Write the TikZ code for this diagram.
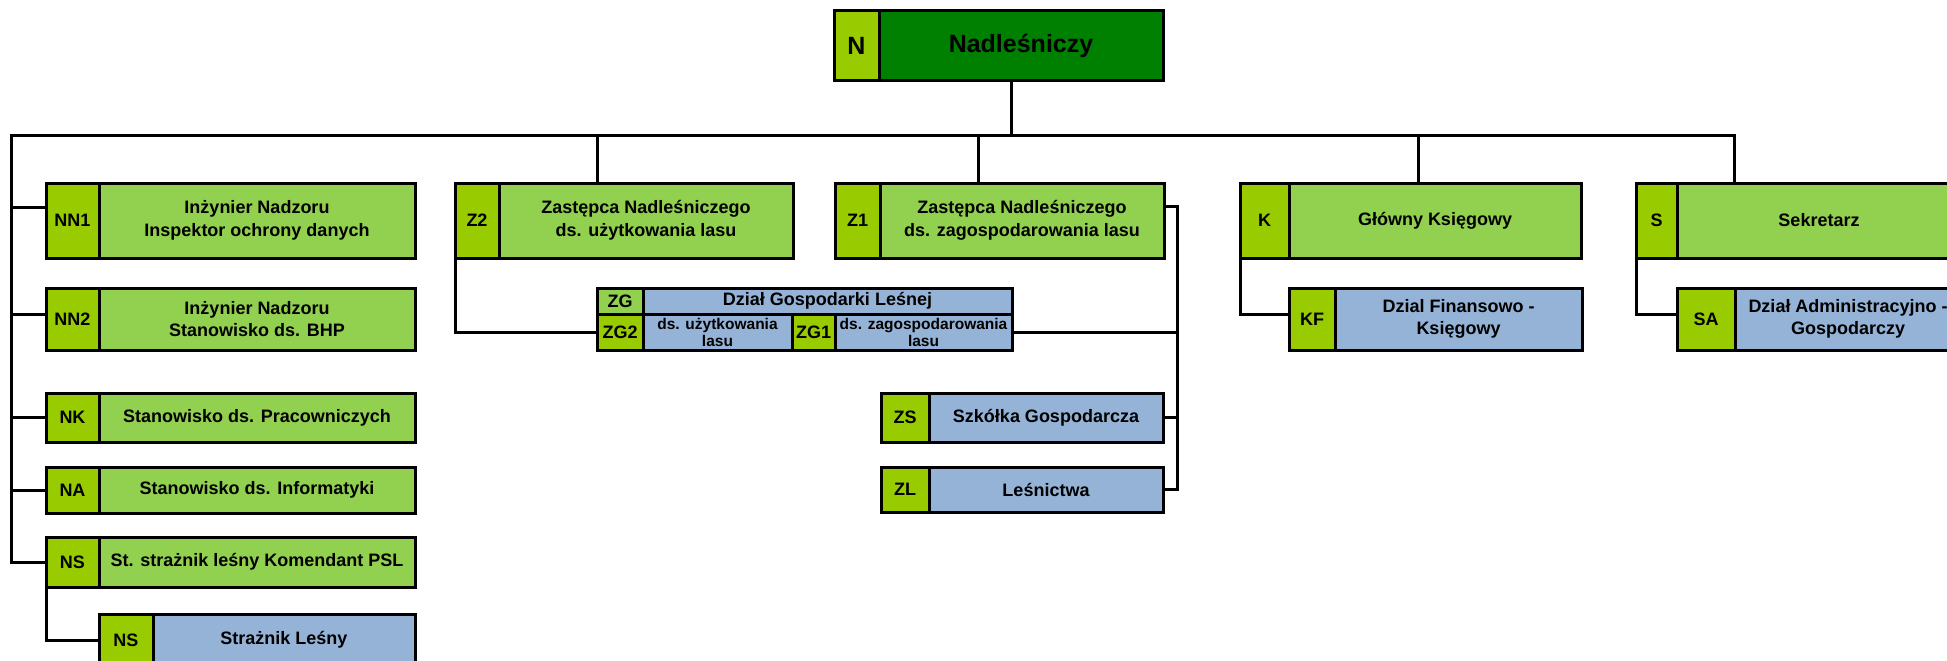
\documentclass[tikz,border=0pt]{standalone}
\usepackage{fontspec}
\setmainfont{Liberation Sans}
\definecolor{codegreen}{HTML}{99CC00}
\definecolor{bodygreen}{HTML}{92D050}
\definecolor{darkgreen}{HTML}{008000}
\definecolor{bodyblue}{HTML}{95B3D7}
\tikzset{
  cell/.style={draw=black, line width=3pt, inner sep=0pt, outer sep=0pt, align=center,
    font=\fontsize{18}{22.5}\selectfont\bfseries, text=black},
  smalltext/.style={font=\fontsize{15.5}{17}\selectfont\bfseries},
  conn/.style={draw=black, line width=3pt},
}
% name, x1, y1, xdiv, x2, y2, code, text, body fill
\newcommand{\orgbox}[9]{%
  \node[cell, fill=codegreen, minimum width={#4-#2}, minimum height={#6-#3}] (#1c) at ({(#2+#4)/2},{(#3+#6)/2}) {#7};
  \node[cell, fill=#9, minimum width={#5-#4}, minimum height={#6-#3}] (#1b) at ({(#4+#5)/2},{(#3+#6)/2}) {#8};
}
\begin{document}
\begin{tikzpicture}[x=1pt,y=-1pt]
\path[use as bounding box, clip] (0,0) rectangle (1947,661);
\fill[white] (0,0) rectangle (1947,661);

% top box
\node[cell, fill=codegreen, minimum width=45, minimum height=70, font=\fontsize{25}{30}\selectfont\bfseries] (Nc) at (856.5,46) {N};
\node[cell, fill=darkgreen, minimum width=284, minimum height=70, font=\fontsize{25}{30}\selectfont\bfseries] (Nb) at (1021,46) {Nadleśniczy};

% left column
\orgbox{NN1}{46}{183}{99}{415}{258}{NN1}{Inżynier Nadzoru\\Inspektor ochrony danych}{bodygreen}
\orgbox{NN2}{46}{288}{99}{415}{350}{NN2}{Inżynier Nadzoru\\Stanowisko ds. BHP}{bodygreen}
\orgbox{NK}{46}{393}{99}{415}{442}{NK}{Stanowisko ds. Pracowniczych}{bodygreen}
\orgbox{NA}{46}{467}{99}{415}{513}{NA}{Stanowisko ds. Informatyki}{bodygreen}
\orgbox{NS}{46}{537}{99}{415}{587}{NS}{St. strażnik leśny Komendant PSL}{bodygreen}
\orgbox{NSS}{99}{614}{153}{415}{666}{NS}{Strażnik Leśny}{bodyblue}

% deputies, accountant, secretary
\orgbox{Z2}{455}{183}{499}{793}{258}{Z2}{Zastępca Nadleśniczego\\ds. użytkowania lasu}{bodygreen}
\orgbox{Z1}{835}{183}{880}{1164}{258}{Z1}{Zastępca Nadleśniczego\\ds. zagospodarowania lasu}{bodygreen}
\orgbox{K}{1240}{183}{1289}{1581}{258}{K}{Główny Księgowy}{bodygreen}
\orgbox{S}{1636}{183}{1677}{1961}{258}{S}{Sekretarz}{bodygreen}
\orgbox{KF}{1289}{288}{1335}{1582}{350}{KF}{Dzial Finansowo -\\Księgowy}{bodyblue}
\orgbox{SA}{1677}{288}{1735}{1961}{350}{SA}{Dział Administracyjno -\\Gospodarczy}{bodyblue}
\orgbox{ZS}{881}{393}{929}{1163}{442}{ZS}{Szkółka Gospodarcza}{bodyblue}
\orgbox{ZL}{881}{467}{929}{1163}{512}{ZL}{Leśnictwa}{bodyblue}

% Dział Gospodarki Leśnej
\node[cell, fill=bodygreen, minimum width=46, minimum height=26] (ZGc) at (620,301) {ZG};
\node[cell, fill=bodyblue, minimum width=369, minimum height=26] (ZGt) at (827.5,301) {Dział Gospodarki Leśnej};
\node[cell, fill=codegreen, minimum width=46, minimum height=36] (ZG2c) at (620,332) {ZG2};
\node[cell, fill=bodyblue, minimum width=149, minimum height=36, smalltext] (ZG2t) at (717.5,332) {ds. użytkowania\\lasu};
\node[cell, fill=codegreen, minimum width=43, minimum height=36] (ZG1c) at (813.5,332) {ZG1};
\node[cell, fill=bodyblue, minimum width=177, minimum height=36, smalltext] (ZG1t) at (923.5,332) {ds. zagospodarowania\\lasu};

% connectors
\coordinate (bN) at (1011,135);
\coordinate (bL) at (11,135);
\coordinate (bR) at (1734,135);
\coordinate (b2) at (597,135);
\coordinate (b1) at (978,135);
\coordinate (bK) at (1418,135);
\coordinate (zr) at (1177,490);

\draw[conn] (Nb.south -| bN) -- (bN);
\draw[conn] (Sb.north -| bR) -- (bR) -- (bL) |- (NSc.west);
\draw[conn] (b2) -- (b2 |- Z2b.north);
\draw[conn] (b1) -- (b1 |- Z1b.north);
\draw[conn] (bK) -- (bK |- Kb.north);

\coordinate (t1) at ([yshift=13.5pt]NN1c.west);
\coordinate (t2) at ([yshift=5pt]NN2c.west);
\draw[conn] (t1) -- (t1 -| bL);
\draw[conn] (t2) -- (t2 -| bL);
\draw[conn] (NKc.west) -- (NKc.west -| bL);
\draw[conn] (NAc.west) -- (NAc.west -| bL);
\draw[conn] (NSc.south west) |- (NSSc.west);

\draw[conn] (Z2c.south west) |- (ZG2c.west);
\coordinate (z1e) at ([yshift=14.5pt]Z1b.east);
\draw[conn] (z1e) -| (zr |- ZLb.east) -- (ZLb.east);
\draw[conn] (ZSb.east) -- (ZSb.east -| zr);
\draw[conn] (ZG1t.east) -- (ZG1t.east -| zr);

\coordinate (kf) at ([yshift=5pt]KFc.west);
\coordinate (sa) at ([yshift=5pt]SAc.west);
\draw[conn] (Kc.south west) |- (kf);
\draw[conn] (Sc.south west) |- (sa);
\end{tikzpicture}
\end{document}
